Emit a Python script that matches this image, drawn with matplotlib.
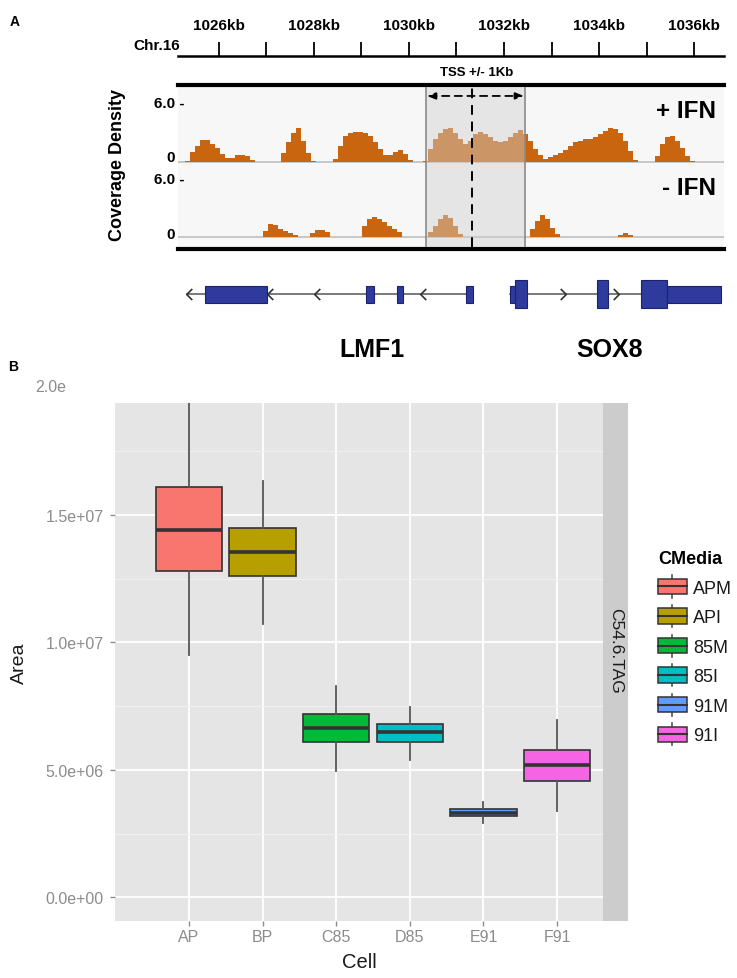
import numpy as np
import matplotlib
matplotlib.use("Agg")
import matplotlib.pyplot as plt
from matplotlib.path import Path
from matplotlib.patches import Rectangle, Patch
from matplotlib.lines import Line2D
from matplotlib.legend_handler import HandlerBase

plt.rcParams['font.family'] = ['Liberation Sans', 'DejaVu Sans']

# === PANEL A DATA (coverage density, bins of BIN_KB) ===
BIN_KB = 0.105
x_range_kb = (1025.14, 1036.63)
ruler_ticks = list(range(1026, 1037))

plus_starts = [1025.28, 1027.30, 1028.40, 1030.30, 1035.18]
plus_peaks = [
    [0.1, 1.0, 1.6, 2.2, 2.2, 1.8, 1.4, 0.8, 0.45, 0.45, 0.7, 0.7, 0.6, 0.2],
    [0.9, 2.0, 3.0, 3.5, 2.1, 0.9, 0.1],
    [0.35, 1.6, 2.6, 3.0, 3.1, 3.1, 3.0, 2.6, 2.0, 1.3, 0.7, 0.7, 1.0, 1.2, 0.8, 0.2],
    [0.15, 1.3, 2.3, 3.0, 3.4, 3.5, 3.0, 2.3, 1.8, 2.1, 2.8, 3.1, 2.9, 2.5, 2.1,
     2.0, 2.1, 2.5, 3.0, 3.3, 2.8, 2.1, 1.3, 0.7, 0.3, 0.55, 0.7, 0.9, 1.2, 1.6,
     2.0, 2.1, 2.3, 2.35, 2.5, 2.8, 3.2, 3.5, 3.4, 3.0, 2.1, 1.1, 0.2],
    [0.6, 1.8, 2.5, 2.6, 2.1, 1.45, 0.6, 0.1],
]
minus_starts = [1026.93, 1027.92, 1029.02, 1030.40, 1032.55, 1034.40]
minus_peaks = [
    [0.65, 1.35, 1.2, 0.85, 0.65, 0.4, 0.2],
    [0.4, 0.7, 0.7, 0.5],
    [1.15, 1.85, 2.1, 1.9, 1.6, 1.15, 0.8, 0.5],
    [0.5, 1.15, 1.85, 2.3, 2.0, 1.15, 0.3],
    [0.8, 1.7, 2.3, 1.85, 0.9, 0.3],
    [0.2, 0.4, 0.2],
]
tss_window = (1030.35, 1032.45)
tss_center = 1031.32

# gene models: introns lines, exons (start, end, kind), strand chevrons
lmf1_line = (1025.33, 1031.35)
sox8_line = (1032.13, 1036.57)
lmf1_exons = [(1025.71, 1027.01, 'utr'), (1029.09, 1029.26, 'utr'),
              (1029.75, 1029.87, 'utr'), (1031.20, 1031.35, 'utr')]
sox8_exons = [(1032.13, 1032.30, 'utr'), (1032.23, 1032.48, 'cds'),
              (1033.96, 1034.19, 'cds'), (1034.88, 1035.43, 'cds'),
              (1035.43, 1036.57, 'utr')]
lmf1_chevrons = [1025.37, 1027.07, 1028.06, 1030.29]
sox8_chevrons = [1033.24, 1034.36]

# === PANEL B DATA (boxplot stats) ===
cells = ['AP', 'BP', 'C85', 'D85', 'E91', 'F91']
media = ['APM', 'API', '85M', '85I', '91M', '91I']
media_colors = ['#F8766D', '#B79F00', '#00BA38', '#00BFC4', '#619CFF', '#F564E3']
whislo = [9.5e6, 1.072e7, 4.95e6, 5.40e6, 2.91e6, 3.37e6]
q1 = [1.281e7, 1.261e7, 6.08e6, 6.08e6, 3.18e6, 4.57e6]
med = [1.4416e7, 1.355e7, 6.63e6, 6.47e6, 3.31e6, 5.20e6]
q3 = [1.610e7, 1.448e7, 7.19e6, 6.80e6, 3.46e6, 5.78e6]
whishi = [1.95e7, 1.634e7, 8.27e6, 7.47e6, 3.73e6, 6.95e6]
y_ticks = [0, 5e6, 1e7, 1.5e7]
y_ticklabels = ['0.0e+00', '5.0e+06', '1.0e+07', '1.5e+07']
y_minor = [2.5e6, 7.5e6, 1.25e7, 1.75e7]

ORANGE = '#c9650e'
EXON = '#2f3b9c'

W, H = 737, 979
fig = plt.figure(figsize=(W / 100, H / 100), dpi=100)


def px_axes(left, top, right, bottom):
    return fig.add_axes([left / W, 1 - bottom / H, (right - left) / W, (bottom - top) / H])


def px_text(x, y, s, **kw):
    return fig.text(x / W, 1 - y / H, s, **kw)


def bare(ax):
    for sp in ax.spines.values():
        sp.set_visible(False)
    ax.set_xticks([])
    ax.set_yticks([])


# === PANEL A ===
px_text(10, 22, 'A', fontsize=10, fontweight='bold', va='center')

ruler = px_axes(178, 43, 724, 57)
ruler.set_xlim(*x_range_kb)
ruler.set_facecolor('none')
for s in ['left', 'right', 'top']:
    ruler.spines[s].set_visible(False)
ruler.spines['bottom'].set_linewidth(1.8)
ruler.set_yticks([])
ruler.set_xticks(ruler_ticks, [f'{t}kb' if t % 2 == 0 else '' for t in ruler_ticks])
ruler.tick_params(axis='x', direction='in', length=10, width=1.3, top=False,
                  labeltop=True, labelbottom=False, pad=7, labelsize=11)
for lab in ruler.get_xticklabels():
    lab.set_fontweight('bold')
px_text(180, 46, 'Chr.16', fontsize=11, fontweight='bold', ha='right', va='center')

frame = px_axes(178, 86, 724, 250)
frame.set_facecolor('#f7f7f7')
frame.set_xticks([])
frame.set_yticks([])
for s in ['left', 'right']:
    frame.spines[s].set_visible(False)
for s in ['top', 'bottom']:
    frame.spines[s].set_linewidth(3)

tracks = [
    (px_axes(178, 88, 724, 165), plus_starts, plus_peaks, (-0.2, 7.63), '+ IFN', 5.19, 0.48),
    (px_axes(178, 165, 724, 248), minus_starts, minus_peaks, (-1.03, 7.55), '- IFN', 5.07, 0.3),
]
for ax, starts, peaks, ylim, name, name_y, zero_y in tracks:
    ax.set_facecolor('none')
    bare(ax)
    ax.set_xlim(*x_range_kb)
    ax.set_ylim(*ylim)
    ax.axhline(0, color='#c4c4c4', lw=1.3, zorder=1)
    for s, vals in zip(starts, peaks):
        edges = s + BIN_KB * np.arange(len(vals) + 1)
        ax.stairs(vals, edges, fill=True, color=ORANGE, lw=0, zorder=2)
    yt = ax.get_yaxis_transform()
    ax.text(0.0128, 6, '6.0 -', transform=yt, ha='right', va='center',
            fontsize=11, fontweight='bold')
    ax.text(-0.0055, zero_y, '0', transform=yt, ha='right', va='center',
            fontsize=11, fontweight='bold')
    ax.text(0.985, name_y, name, transform=yt, ha='right', va='center',
            fontsize=17.5, fontweight='bold')

over = px_axes(178, 88, 724, 248)
over.set_facecolor('none')
bare(over)
over.set_xlim(*x_range_kb)
over.set_ylim(0, 1)
over.axvspan(*tss_window, color='#d0d0d0', alpha=0.45, lw=0)
for xe in tss_window:
    over.axvline(xe, color='#8a8a8a', lw=1.2)
over.axvline(tss_center, color='black', lw=1.4, dashes=(5, 3.5))
over.annotate('', xy=(tss_window[1] - 0.03, 0.944), xytext=(tss_window[0] + 0.03, 0.944),
              arrowprops=dict(arrowstyle='<|-|>,head_length=0.5,head_width=0.2',
                              color='black', lw=1.3, linestyle=(0, (4, 3)),
                              shrinkA=0, shrinkB=0))
px_text(477, 73, 'TSS +/- 1Kb', fontsize=9.5, fontweight='bold', ha='center', va='center')
px_text(117, 165, 'Coverage Density', fontsize=13, fontweight='bold',
        rotation=90, ha='center', va='center')

gene = px_axes(178, 275, 724, 315)
gene.set_facecolor('none')
bare(gene)
gene.set_xlim(*x_range_kb)
gene.set_ylim(-1, 1)
heights = {'utr': 0.85, 'cds': 1.4}
for line, exons, chev, tip in [(lmf1_line, lmf1_exons, lmf1_chevrons, -1),
                               (sox8_line, sox8_exons, sox8_chevrons, 1)]:
    gene.plot(line, [0, 0], color='#555555', lw=1.1, zorder=1)
    chevron = Path([(-tip * 0.5, 1), (tip * 0.5, 0), (-tip * 0.5, -1)],
                   [Path.MOVETO, Path.LINETO, Path.LINETO])
    gene.plot(chev, [0] * len(chev), ls='none', marker=chevron, markersize=8,
              markerfacecolor='none', markeredgecolor='#333333', mew=1.2, zorder=2)
    for s, e, kind in exons:
        gene.barh(0, e - s, left=s, height=heights[kind], color=EXON,
                  edgecolor='#1c2270', lw=0.8, zorder=3)
px_text(372, 350, 'LMF1', fontsize=18, fontweight='bold', ha='center', va='center')
px_text(610, 350, 'SOX8', fontsize=18, fontweight='bold', ha='center', va='center')

# === PANEL B ===
px_text(8, 367, 'B', fontsize=10, fontweight='bold', va='center')
axB = px_axes(115, 404, 602.7, 921.7)
stats = [dict(med=m, q1=a, q3=b, whislo=lo, whishi=hi, fliers=[])
         for m, a, b, lo, hi in zip(med, q1, q3, whislo, whishi)]
bp = axB.bxp(stats, positions=np.arange(len(cells)), widths=0.9, patch_artist=True,
             showcaps=False,
             boxprops=dict(edgecolor='#333333', linewidth=1.2),
             medianprops=dict(color='#333333', linewidth=2.6),
             whiskerprops=dict(color='#555555', linewidth=1.3))
for patch, c in zip(bp['boxes'], media_colors):
    patch.set_facecolor(c)
axB.set_facecolor('#e5e5e5')
for sp in axB.spines.values():
    sp.set_visible(False)
axB.set_xlim(-1.005, 5.62)
axB.set_ylim(-0.918e6, 1.9384e7)
axB.set_xticks(np.arange(len(cells)), cells)
axB.set_yticks(y_ticks, y_ticklabels)
axB.set_yticks(y_minor, minor=True)
axB.set_axisbelow(True)
axB.grid(which='major', color='white', lw=1.3)
axB.grid(which='minor', axis='y', color='#f1f1f1', lw=0.7)
axB.tick_params(axis='both', which='major', colors='#8c8c8c', labelsize=11.5,
                length=3.8, width=1)
axB.tick_params(axis='y', pad=4.5)
axB.tick_params(axis='x', pad=2.5)
axB.tick_params(axis='y', which='minor', length=0)
px_text(35, 388, '2.0e', fontsize=11.5, color='#8c8c8c', ha='left', va='center')
px_text(19, 663, 'Area', fontsize=14, rotation=90, ha='center', va='center', color='#1a1a1a')
px_text(359, 963, 'Cell', fontsize=14.5, ha='center', va='center', color='#1a1a1a')

strip = px_axes(602.7, 404, 628.3, 921.7)
strip.set_facecolor('#cccccc')
bare(strip)
strip.text(0.5, 0.523, 'C54.6.TAG', rotation=-90, ha='center', va='center',
           fontsize=12.5, color='#1a1a1a', transform=strip.transAxes)


class BoxKey(HandlerBase):
    def create_artists(self, legend, orig_handle, xdescent, ydescent, width, height,
                       fontsize, trans):
        x0, y0 = -xdescent, -ydescent
        whisk = Line2D([x0 + width / 2] * 2, [y0 - 0.08 * height, y0 + 1.08 * height],
                       color='#555555', lw=1.2, transform=trans)
        box = Rectangle((x0, y0 + 0.1 * height), width, 0.8 * height,
                        facecolor=orig_handle.get_facecolor(), edgecolor='#333333',
                        lw=1.1, transform=trans)
        mline = Line2D([x0, x0 + width], [y0 + height / 2] * 2, color='#333333',
                       lw=1.5, transform=trans)
        return [whisk, box, mline]


handles = [Patch(facecolor=c) for c in media_colors]
leg = axB.legend(handles, media, title='CMedia', loc='upper left',
                 bbox_to_anchor=(658 / W, 1 - 551 / H), bbox_transform=fig.transFigure,
                 frameon=False, handler_map={Patch: BoxKey()}, fontsize=13,
                 handlelength=1.6, handleheight=1.25, labelspacing=0.55,
                 handletextpad=0.33, borderpad=0, borderaxespad=0,
                 title_fontproperties={'weight': 'bold', 'size': 13}, alignment='left')
for t in leg.get_texts():
    t.set_color('#1a1a1a')

fig.savefig('out.png', dpi=100)
